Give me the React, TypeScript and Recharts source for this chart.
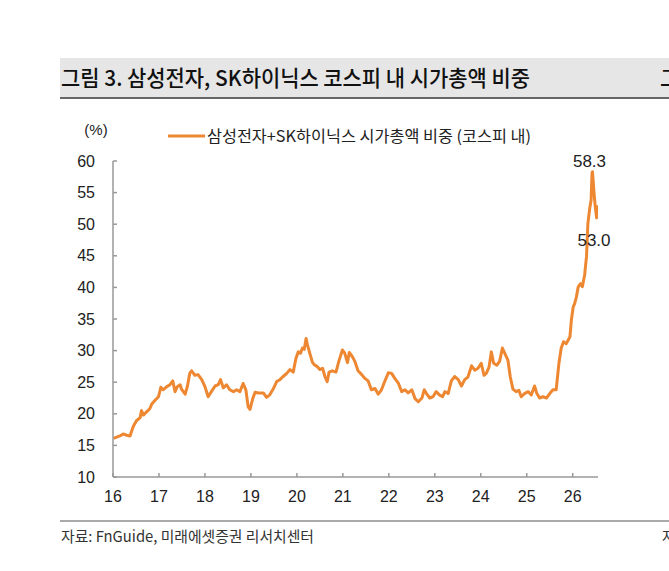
import React from 'react';
import { LineChart, Line, XAxis, YAxis, LabelList } from 'recharts';

// 연도(16 = 2016년 초) / 시가총액 비중(%)
const years = [
  16.01, 16.08, 16.15, 16.22, 16.3, 16.37, 16.44, 16.51, 16.59, 16.62, 16.66, 16.73, 16.8, 16.84, 16.91, 16.99,
  17.04, 17.09, 17.17, 17.24, 17.3, 17.35, 17.4, 17.46, 17.49, 17.57, 17.62, 17.67, 17.71, 17.78, 17.85, 17.93,
  18.0, 18.07, 18.14, 18.22, 18.29, 18.34, 18.4, 18.47, 18.54, 18.62, 18.69, 18.76, 18.83, 18.89, 18.94, 18.98,
  19.04, 19.09, 19.16, 19.27, 19.34, 19.41, 19.49, 19.56, 19.63, 19.7, 19.78, 19.85, 19.92, 19.98,
  20.03, 20.08, 20.12, 20.16, 20.2, 20.23, 20.28, 20.34, 20.39, 20.44, 20.5, 20.56, 20.61, 20.66, 20.7, 20.77,
  20.85, 20.92, 20.99, 21.04, 21.1, 21.14, 21.21, 21.26, 21.33, 21.41, 21.48, 21.55, 21.62, 21.7, 21.77, 21.84,
  21.91, 21.99, 22.06, 22.13, 22.21, 22.28, 22.35, 22.42, 22.5, 22.57, 22.64, 22.72, 22.77, 22.82, 22.89, 22.96,
  23.03, 23.1, 23.17, 23.22, 23.29, 23.36, 23.43, 23.51, 23.58, 23.65, 23.72, 23.8, 23.87, 23.94,
  24.01, 24.07, 24.12, 24.18, 24.23, 24.28, 24.35, 24.41, 24.47, 24.54, 24.59, 24.64, 24.7, 24.77, 24.83, 24.88, 24.95,
  25.03, 25.1, 25.17, 25.22, 25.28, 25.35, 25.43, 25.5, 25.57, 25.64, 25.7, 25.75, 25.8, 25.86, 25.94, 25.97,
  26.01, 26.04, 26.08, 26.12, 26.17, 26.21, 26.26, 26.3, 26.33, 26.37, 26.4, 26.42, 26.43, 26.47, 26.49, 26.52, 26.55,
];

const shares = [
  16.1, 16.3, 16.5, 16.8, 16.6, 16.5, 18.0, 18.9, 19.4, 20.5, 19.8, 20.3, 20.8, 21.5, 22.1, 22.7,
  24.2, 23.8, 24.3, 24.6, 25.2, 23.5, 24.3, 24.6, 23.9, 23.1, 24.4, 26.4, 26.8, 26.1, 26.2, 25.4,
  24.3, 22.7, 23.5, 24.4, 24.6, 25.4, 24.1, 24.6, 23.8, 23.5, 23.8, 23.5, 24.8, 23.8, 21.1, 20.7,
  22.4, 23.4, 23.3, 23.3, 22.6, 23.0, 24.0, 25.1, 25.4, 25.9, 26.4, 27.0, 26.6, 28.8,
  29.8, 29.6, 30.4, 30.2, 31.9, 30.9, 29.6, 28.1, 27.7, 27.5, 27.0, 27.2, 25.9, 25.1, 26.6, 26.8,
  26.6, 28.5, 30.1, 29.6, 28.1, 29.7, 29.0, 28.3, 26.8, 26.2, 25.6, 25.2, 23.8, 24.0, 23.1, 23.8,
  25.1, 26.5, 26.4, 25.6, 24.8, 23.5, 23.8, 23.3, 23.8, 22.4, 21.9, 22.5, 23.8, 23.2, 22.5, 22.7,
  23.5, 23.0, 22.7, 23.5, 23.2, 25.2, 25.9, 25.4, 24.4, 25.4, 25.8, 27.6, 26.9, 27.2,
  28.0, 26.1, 26.4, 27.4, 29.8, 28.0, 27.7, 28.3, 30.4, 29.3, 28.5, 25.9, 23.9, 23.5, 23.7, 22.7, 23.2,
  23.5, 23.0, 24.4, 23.2, 22.5, 22.7, 22.5, 23.2, 23.8, 23.8, 28.0, 30.4, 31.4, 31.1, 32.2, 34.8,
  36.9, 37.4, 38.5, 40.1, 40.6, 40.1, 42.0, 44.9, 50.1, 52.5, 53.8, 58.1, 58.3, 54.4, 52.8, 51.0, 53.0,
];

const xTicks = [16, 17, 18, 19, 20, 21, 22, 23, 24, 25, 26];
const yTicks = [10, 15, 20, 25, 30, 35, 40, 45, 50, 55, 60];

const title = '그림 3. 삼성전자, SK하이닉스 코스피 내 시가총액 비중';
const seriesName = '삼성전자+SK하이닉스 시가총액 비중 (코스피 내)';
const source = '자료: FnGuide, 미래에셋증권 리서치센터';

const data = years.map((year, i) => ({ year, share: shares[i] }));
const peakIndex = shares.indexOf(Math.max(...shares));
const lastIndex = shares.length - 1;

const ORANGE = '#EE8732';
const AXIS = '#999';
const NUM_FONT = '"Liberation Sans", Arial, sans-serif';
const KR_FONT = '"Noto Sans CJK KR", "Noto Sans", sans-serif';

const renderMark = (props: any) => {
  const { x, y, index, value } = props;
  if (index !== peakIndex && index !== lastIndex) return null;
  const isPeak = index === peakIndex;
  return (
    <text
      x={isPeak ? x - 3 : x - 4}
      y={isPeak ? y - 5 : y + 41}
      textAnchor="middle"
      fontSize={17}
      fontFamily={NUM_FONT}
      fill="#222"
    >
      {Number(value).toFixed(1)}
    </text>
  );
};

function App() {
  return (
    <div style={{ position: 'relative', width: 669, height: 571, background: '#fff', overflow: 'hidden' }}>
      <style>{'body{margin:0}'}</style>
      <LineChart width={669} height={571} data={data} margin={{ top: 161, right: 71, bottom: 64, left: 0 }}>
        <XAxis
          dataKey="year"
          type="number"
          domain={[16, 26.55]}
          ticks={xTicks}
          allowDataOverflow
          height={30}
          interval={0}
          tickSize={-4}
          tickMargin={18}
          axisLine={{ stroke: AXIS, strokeWidth: 1.5 }}
          tickLine={{ stroke: AXIS, strokeWidth: 1.5 }}
          tick={{ fill: '#222', fontSize: 16, fontFamily: NUM_FONT }}
        />
        <YAxis
          type="number"
          domain={[10, 60]}
          ticks={yTicks}
          interval={0}
          width={113}
          tickSize={-4}
          tickMargin={22}
          axisLine={{ stroke: AXIS, strokeWidth: 1.5 }}
          tickLine={{ stroke: AXIS, strokeWidth: 1.5 }}
          tick={{ fill: '#222', fontSize: 16, fontFamily: NUM_FONT }}
        />
        <Line
          type="linear"
          dataKey="share"
          stroke={ORANGE}
          strokeWidth={3}
          strokeLinejoin="round"
          dot={false}
          activeDot={false}
          isAnimationActive={false}
        >
          <LabelList dataKey="share" content={renderMark} />
        </Line>
      </LineChart>

      <svg width={669} height={571} style={{ position: 'absolute', left: 0, top: 0, pointerEvents: 'none' }}>
        {/* 제목 바 */}
        <rect x={60} y={58} width={609} height={39} fill="#e6e6e6" />
        <line x1={60} y1={98} x2={669} y2={98} stroke="#666" strokeWidth={2} />
        <text x={61} y={86} fontSize={22} fontWeight={500} fontFamily={KR_FONT} fill="#111" textLength={469} lengthAdjust="spacingAndGlyphs">
          {title}
        </text>
        <text x={660} y={86} fontSize={22} fontWeight={500} fontFamily={KR_FONT} fill="#111">그</text>

        {/* 단위, 범례 */}
        <text x={96} y={135} textAnchor="middle" fontSize={15} fontFamily={NUM_FONT} fill="#222">(%)</text>
        <line x1={168} y1={136} x2={205} y2={136} stroke={ORANGE} strokeWidth={3} />
        <text x={207} y={142} fontSize={16} fontFamily={KR_FONT} fill="#222" textLength={324} lengthAdjust="spacingAndGlyphs">
          {seriesName}
        </text>

        {/* 출처 */}
        <line x1={60} y1={521} x2={669} y2={521} stroke="#aaa" strokeWidth={2} />
        <text x={61} y={542} fontSize={15} fontFamily={KR_FONT} fill="#333" textLength={253} lengthAdjust="spacingAndGlyphs">
          {source}
        </text>
        <text x={662} y={542} fontSize={15} fontFamily={KR_FONT} fill="#333">자</text>
      </svg>
    </div>
  );
}

export default App;
